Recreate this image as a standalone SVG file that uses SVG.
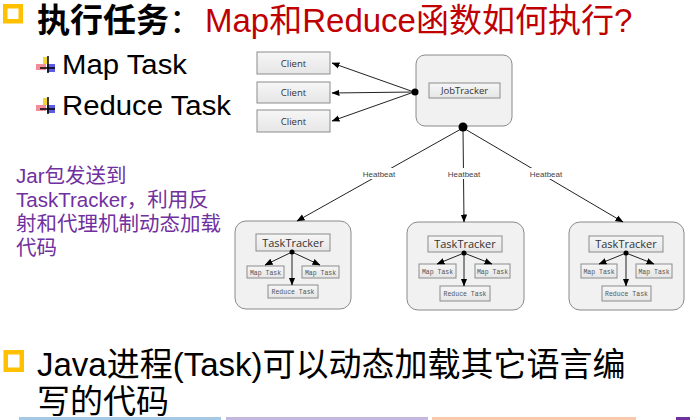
<svg xmlns="http://www.w3.org/2000/svg" width="690" height="420" viewBox="0 0 690 420">
<defs>
<marker id="ah" markerUnits="userSpaceOnUse" markerWidth="8" markerHeight="8" viewBox="0 0 8 8" refX="7.5" refY="4" orient="auto">
<path d="M0,0.8 L8,4 L0,7.2 Z" fill="#000"/>
</marker>
<linearGradient id="gbox" x1="0" y1="0" x2="0" y2="1">
<stop offset="0" stop-color="#F6F6F6"/>
<stop offset="1" stop-color="#E6E6E6"/>
</linearGradient>
</defs>
<style>
.cjk{font-family:"Liberation Sans","Noto Sans CJK SC",sans-serif}
.big{font-size:33px}
.sq{fill:none;stroke:#FFC000;stroke-width:4.5}
.item{font-family:"Liberation Sans",sans-serif;font-size:27px;fill:#000}
.purple{font-family:"Liberation Sans","Noto Sans CJK SC",sans-serif;font-size:20.5px;fill:#7030A0}
.box{fill:url(#gbox);stroke:#8C8C8C;stroke-width:1}
.outer{fill:#F1F1F1;stroke:#8A8A8A;stroke-width:1}
.lbl{font-family:"Open Sans","Liberation Sans",sans-serif;font-size:9.5px;fill:#333;text-anchor:middle}
.tt{font-family:"Open Sans","Liberation Sans",sans-serif;font-size:11px;fill:#333;text-anchor:middle}
.small{font-family:"Liberation Mono",monospace;font-size:6.5px;fill:#555;text-anchor:middle}
.hb{font-family:"Liberation Sans",sans-serif;font-size:8px;fill:#444;text-anchor:middle}
.ln{stroke:#222;stroke-width:1;fill:none}
.arr{stroke:#222;stroke-width:1;fill:none;marker-end:url(#ah)}
</style>

<!-- title -->
<g id="title">
<rect class="sq" x="5.25" y="6.25" width="15.5" height="15"/>
<text class="cjk big" x="37" y="32"><tspan font-weight="bold" fill="#000">执行任务</tspan><tspan fill="#000">：</tspan></text>
<text class="cjk big" x="205" y="32" fill="#C00000">Map和Reduce函数如何执行?</text>
</g>

<!-- bullet items -->
<g id="items">
<g id="icon1">
<rect x="43" y="57" width="5" height="7" fill="#F5D020" opacity="0.9"/>
<rect x="36" y="64" width="10" height="6" fill="#F07080" opacity="0.8"/>
<rect x="47" y="64" width="8" height="8" fill="#4040E0" opacity="0.85"/>
<line x1="48" y1="56" x2="48" y2="73" stroke="#000" stroke-width="1.5"/>
<line x1="40" y1="68" x2="55" y2="68" stroke="#000" stroke-width="1.5"/>
</g>
<text class="item" x="62" y="74" textLength="125" lengthAdjust="spacingAndGlyphs">Map Task</text>
<g id="icon2" transform="translate(0,41)">
<rect x="43" y="57" width="5" height="7" fill="#F5D020" opacity="0.9"/>
<rect x="36" y="64" width="10" height="6" fill="#F07080" opacity="0.8"/>
<rect x="47" y="64" width="8" height="8" fill="#4040E0" opacity="0.85"/>
<line x1="48" y1="56" x2="48" y2="73" stroke="#000" stroke-width="1.5"/>
<line x1="40" y1="68" x2="55" y2="68" stroke="#000" stroke-width="1.5"/>
</g>
<text class="item" x="62" y="115" textLength="169" lengthAdjust="spacingAndGlyphs">Reduce Task</text>
</g>

<!-- side note -->
<g id="note">
<text class="purple" x="16" y="183">Jar包发送到</text>
<text class="purple" x="16" y="207">TaskTracker，利用反</text>
<text class="purple" x="16" y="231">射和代理机制动态加载</text>
<text class="purple" x="16" y="255">代码</text>
</g>

<!-- clients -->
<g id="client1"><rect class="box" x="257" y="52" width="73" height="22"/><text class="lbl" x="293.5" y="66.5">Client</text></g>
<g id="client2"><rect class="box" x="257" y="82" width="73" height="21"/><text class="lbl" x="293.5" y="96">Client</text></g>
<g id="client3"><rect class="box" x="257" y="110" width="73" height="22"/><text class="lbl" x="293.5" y="124.5">Client</text></g>

<!-- jobtracker -->
<g id="jobtracker">
<rect class="outer" x="416" y="55" width="96" height="71" rx="9"/>
<rect class="box" x="429" y="83" width="71" height="15"/>
<text class="lbl" x="464.5" y="94">JobTracker</text>
</g>

<!-- tasktrackers -->
<g id="tasktracker1" transform="translate(235,221)">
<rect class="outer" x="0" y="0" width="116" height="88" rx="11"/>
<rect class="box" x="21" y="13" width="74" height="17"/>
<text class="tt" x="58" y="25.5">TaskTracker</text>
<rect class="box" x="12" y="45" width="37" height="12"/>
<text class="small" x="30.5" y="53.5">Map Task</text>
<rect class="box" x="67" y="45" width="37" height="12"/>
<text class="small" x="85.5" y="53.5">Map Task</text>
<rect class="box" x="33" y="64" width="50" height="13"/>
<text class="small" x="58" y="72.8">Reduce Task</text>
</g>
<g id="tasktracker2" transform="translate(407,222)">
<rect class="outer" x="0" y="0" width="117" height="88" rx="11"/>
<rect class="box" x="21" y="14" width="74" height="16"/>
<text class="tt" x="58" y="26">TaskTracker</text>
<rect class="box" x="12" y="42" width="37" height="14"/>
<text class="small" x="30.5" y="51.5">Map Task</text>
<rect class="box" x="68" y="42" width="35" height="14"/>
<text class="small" x="85.5" y="51.5">Map Task</text>
<rect class="box" x="33" y="64" width="50" height="15"/>
<text class="small" x="58" y="73.5">Reduce Task</text>
</g>
<g id="tasktracker3" transform="translate(569,222)">
<rect class="outer" x="0" y="0" width="115" height="88" rx="11"/>
<rect class="box" x="20" y="14" width="74" height="16"/>
<text class="tt" x="57" y="26">TaskTracker</text>
<rect class="box" x="12" y="42" width="36" height="14"/>
<text class="small" x="30" y="51.5">Map Task</text>
<rect class="box" x="67" y="42" width="36" height="14"/>
<text class="small" x="85" y="51.5">Map Task</text>
<rect class="box" x="33" y="64" width="49" height="15"/>
<text class="small" x="57.5" y="73.5">Reduce Task</text>
</g>

<!-- connectors -->
<g id="connectors">
<line class="arr" x1="414" y1="92" x2="332" y2="63"/>
<line class="arr" x1="414" y1="92" x2="332" y2="93"/>
<line class="arr" x1="414" y1="92" x2="332" y2="121"/>
<circle cx="415" cy="92" r="3.5" fill="#000"/>

<line class="arr" x1="461" y1="129" x2="297" y2="221"/>
<line class="arr" x1="463" y1="129" x2="464" y2="222"/>
<line class="arr" x1="465" y1="129" x2="623" y2="222"/>
<circle cx="463" cy="127" r="4.5" fill="#000"/>
<rect x="362" y="168" width="34" height="11" fill="#fff"/>
<text class="hb" x="379" y="176.5">Heatbeat</text>
<rect x="448" y="168" width="33" height="11" fill="#fff"/>
<text class="hb" x="464" y="176.5">Heatbeat</text>
<rect x="529" y="168" width="34" height="11" fill="#fff"/>
<text class="hb" x="546" y="176.5">Heatbeat</text>

<line class="arr" x1="292" y1="252" x2="265" y2="265"/>
<line class="arr" x1="292" y1="252" x2="320" y2="265"/>
<line class="arr" x1="292" y1="252" x2="292" y2="285"/>
<circle cx="292" cy="252" r="2.5" fill="#000"/>
<line class="arr" x1="464" y1="253" x2="437" y2="264"/>
<line class="arr" x1="464" y1="253" x2="492" y2="264"/>
<line class="arr" x1="464" y1="253" x2="464" y2="286"/>
<circle cx="464" cy="253" r="2.5" fill="#000"/>
<line class="arr" x1="626" y1="253" x2="599" y2="264"/>
<line class="arr" x1="626" y1="253" x2="654" y2="264"/>
<line class="arr" x1="626" y1="253" x2="626" y2="286"/>
<circle cx="626" cy="253" r="2.5" fill="#000"/>
</g>

<!-- bottom bullet -->
<g id="bottom">
<rect class="sq" x="5.75" y="352.25" width="16" height="17.5"/>
<text class="cjk big" x="37" y="376" fill="#000">Java进程(Task)可以动态加载其它语言编</text>
<text class="cjk big" x="37" y="413" fill="#000">写的代码</text>
<rect x="19" y="417" width="202" height="3" fill="#A5C8E4"/>
<rect x="226" y="417" width="202" height="3" fill="#C5B8E0"/>
<rect x="432" y="417" width="204" height="3" fill="#F9C9AE"/>
<rect x="676" y="417" width="14" height="3" fill="#7030A0"/>
</g>
</svg>
